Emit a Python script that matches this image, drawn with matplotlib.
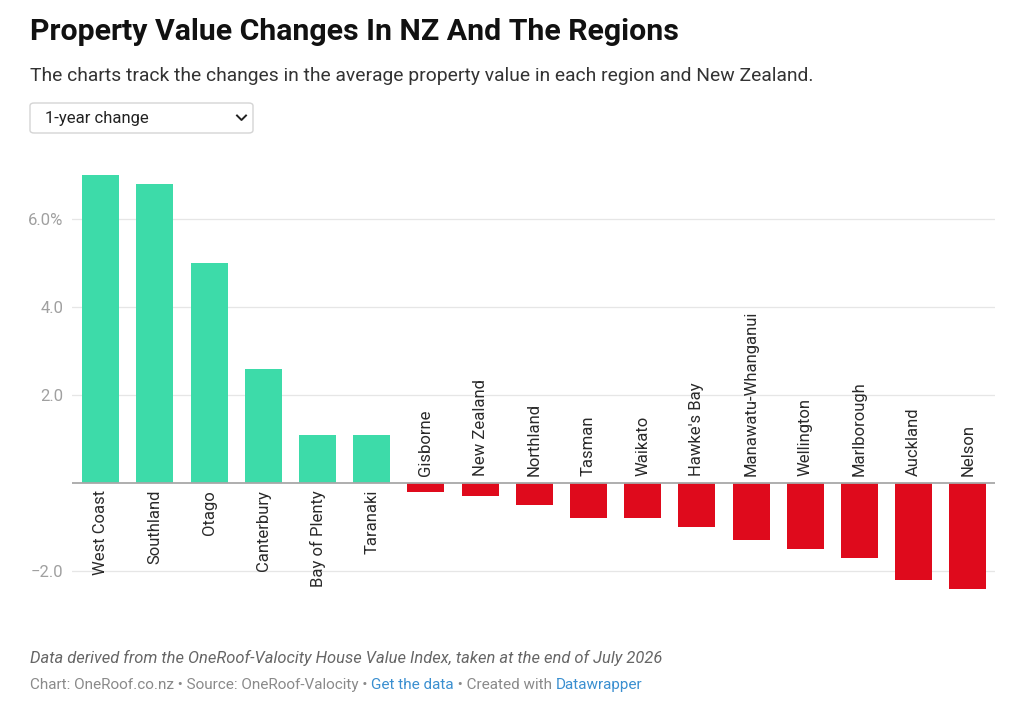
import matplotlib
matplotlib.use("Agg")
import matplotlib.pyplot as plt
from matplotlib.patches import FancyBboxPatch
from matplotlib.lines import Line2D

regions = ["West Coast", "Southland", "Otago", "Canterbury", "Bay of Plenty", "Taranaki",
           "Gisborne", "New Zealand", "Northland", "Tasman", "Waikato", "Hawke's Bay",
           "Manawatu-Whanganui", "Wellington", "Marlborough", "Auckland", "Nelson"]
changes = [7.0, 6.8, 5.0, 2.6, 1.1, 1.1,
           -0.2, -0.3, -0.5, -0.8, -0.8, -1.0,
           -1.3, -1.5, -1.7, -2.2, -2.4]
yticks = [-2.0, 2.0, 4.0, 6.0]
ytick_labels = ["\u22122.0", "2.0", "4.0", "6.0%"]

GREEN = "#3ddba9"
RED = "#df0a1c"
FONT = "Roboto"

fig = plt.figure(figsize=(10.24, 7.03), dpi=100)
fig.patch.set_facecolor("white")

ax = fig.add_axes([0.0703, 0.1502, 0.9014, 0.6134])
x = list(range(len(regions)))
colors = [GREEN if v >= 0 else RED for v in changes]
ax.bar(x, changes, width=0.68, color=colors, zorder=3)
ax.set_xlim(-0.53, 16.5)
ax.set_ylim(-2.6, 7.2)

for s in ax.spines.values():
    s.set_visible(False)
ax.set_xticks([])
ax.set_yticks(yticks)
ax.set_yticklabels(ytick_labels, fontfamily=FONT, fontsize=12, color="#a0a0a0")
ax.tick_params(axis="y", length=0, pad=6)
for t in yticks:
    ax.axhline(t, color="#e6e6e6", lw=0.9, zorder=1)
ax.axhline(0, color="#a8a8a8", lw=1.3, zorder=4)

for xi, name, v in zip(x, regions, changes):
    if v >= 0:
        ax.annotate(name, xy=(xi, 0), xytext=(0, -5), textcoords="offset points",
                    rotation=90, ha="center", va="top", fontfamily=FONT,
                    fontsize=12, color="#2a2a2a")
    else:
        ax.annotate(name, xy=(xi, 0), xytext=(0, 5), textcoords="offset points",
                    rotation=90, ha="center", va="bottom", fontfamily=FONT,
                    fontsize=12, color="#2a2a2a")

# Title and subtitle
fig.text(30 / 1024, 1 - 32 / 703, "Property Value Changes In NZ And The Regions",
         fontfamily=FONT, fontweight="bold", fontsize=21.8, color="#111111", va="center")
fig.text(30 / 1024, 1 - 76 / 703,
         "The charts track the changes in the average property value in each region and New Zealand.",
         fontfamily=FONT, fontsize=13.9, color="#333333", va="center")

# Dropdown box
box = FancyBboxPatch((30 / 1024, 1 - 133 / 703), 223 / 1024, 30 / 703,
                     boxstyle="round,pad=0,rounding_size=0.004", transform=fig.transFigure,
                     facecolor="white", edgecolor="#d4d4d4", lw=1.0)
fig.patches.append(box)
fig.text(45 / 1024, 1 - 118 / 703, "1-year change", fontfamily=FONT, fontsize=12,
         color="#222222", va="center")
fig.lines.append(Line2D([237 / 1024, 241.5 / 1024, 246 / 1024],
                        [1 - 115.5 / 703, 1 - 120 / 703, 1 - 115.5 / 703],
                        transform=fig.transFigure, color="#222222", lw=1.4))

# Footer
fig.text(30 / 1024, 1 - 658 / 703,
         "Data derived from the OneRoof-Valocity House Value Index, taken at the end of July 2026",
         fontfamily=FONT, fontstyle="italic", fontsize=11.9, color="#666666", va="center")
parts = [("Chart: OneRoof.co.nz \u2022 Source: OneRoof-Valocity \u2022 ", "#8a8a8a"),
         ("Get the data", "#3a8fd0"),
         (" \u2022 Created with ", "#8a8a8a"),
         ("Datawrapper", "#3a8fd0")]
last = fig.text(30 / 1024, 1 - 689 / 703, parts[0][0], fontfamily=FONT, fontsize=11.0,
                color=parts[0][1], va="baseline")
for txt, col in parts[1:]:
    last = ax.annotate(txt, xy=(1, 0), xycoords=last, xytext=(0, 0),
                       textcoords="offset points", ha="left", va="bottom",
                       fontfamily=FONT, fontsize=11.0, color=col, annotation_clip=False)

fig.savefig("out.png", dpi=100, facecolor="white")
